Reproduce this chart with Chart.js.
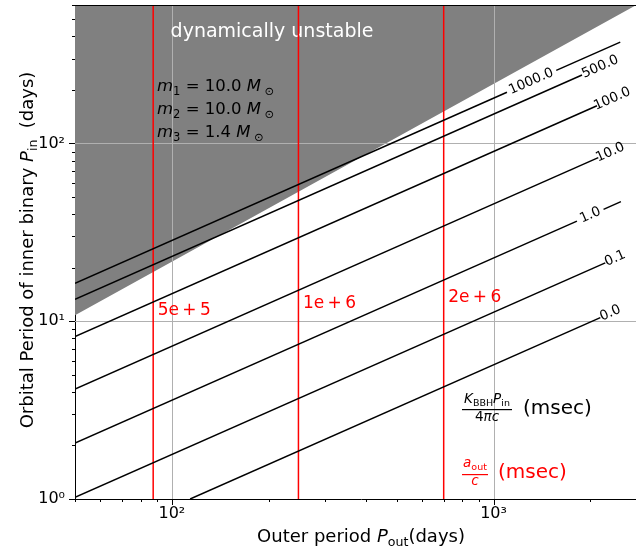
<!DOCTYPE html>
<html>
<head>
<meta charset="utf-8">
<script src="https://cdn.jsdelivr.net/npm/chart.js@4"></script>
<style>
html, body { margin: 0; padding: 0; overflow: hidden; background: #fff; }
#wrap { width: 648px; height: 550px; }
</style>
</head>
<body>
<div id="wrap"><canvas id="chart" width="648" height="550"></canvas></div>
<script>
// axis ranges and tick positions (log axes)
const xRange = [50, 3000];
const yRange = [1, 600];
const xTicks = [50, 60, 70, 80, 90, 100, 200, 300, 400, 500, 600, 700, 800, 900, 1000, 2000, 3000];
const yTicks = [1, 2, 3, 4, 5, 6, 7, 8, 9, 10, 20, 30, 40, 50, 60, 70, 80, 90, 100, 200, 300, 400, 500, 600];
const tickLabels = { 1: '10⁰', 10: '10¹', 100: '10²', 1000: '10³' };

// edge of the dynamically unstable (grey) region, [P_out, P_in]
const unstableEdge = [[50, 10.8], [2780, 600], [3000, 600]];

// contours of K_BBH P_in / 4 pi c (msec); each one is a list of pieces, gaps are where labels sit
const contourLevels = ['1000.0', '500.0', '100.0', '10.0', '1.0', '0.1', '0.0'];
const contourSegments = [
    [[[50, 16.35], [1101, 194.0]], [[1567, 257.3], [2477, 370.7]]],
    [[[50, 13.29], [1884, 242.3]]],
    [[[50, 8.195], [2097, 162.7]]],
    [[[50, 4.150], [2117, 83.1]]],
    [[[50, 2.064], [1817, 36.54]], [[2198, 42.56], [2489, 47.02]]],
    [[[50, 1.021], [2225, 21.27]]],
    [[[114, 1.0], [2148, 10.47]]]
];
const contourLabelAt = [[1310, 222.8], [2147, 269.0], [2339, 177.6], [2307, 88.98], [1999, 39.45], [2390, 22.52], [2307, 11.08]];

// a_out / c (msec) lines
const aoutPeriods = [87.5, 247.5, 700];
const aoutLabels = ['5e\u2009+\u20095', '1e\u2009+\u20096', '2e\u2009+\u20096'];
const aoutLabelY = [10.85, 11.9, 12.85];

const FONT = '"DejaVu Sans"';

function fontOf(r) {
    return (r[2] ? 'italic ' : '') + r[1] + 'px ' + FONT;
}

// draw a row of text pieces (text, size, italic, shift)
function drawRuns(ctx, runs, x, y, align, color) {
    let w = 0;
    runs.forEach(r => { ctx.font = fontOf(r); w += ctx.measureText(r[0]).width; });
    let cx = align === 'center' ? x - w / 2 : (align === 'right' ? x - w : x);
    ctx.textAlign = 'left';
    ctx.textBaseline = 'alphabetic';
    ctx.fillStyle = color;
    runs.forEach(r => {
        ctx.font = fontOf(r);
        ctx.fillText(r[0], cx, y + (r[3] || 0));
        cx += ctx.measureText(r[0]).width;
    });
    return w;
}

const datasets = [];
datasets.push({
    data: unstableEdge.map(p => ({ x: p[0], y: p[1] })),
    fill: 'end',
    backgroundColor: '#808080',
    borderColor: 'rgba(0,0,0,0)',
    borderWidth: 0,
    pointRadius: 0,
    order: 10
});
contourSegments.forEach(segs => {
    segs.forEach(seg => {
        datasets.push({
            data: seg.map(p => ({ x: p[0], y: p[1] })),
            borderColor: '#000',
            borderWidth: 1.5,
            pointRadius: 0,
            fill: false
        });
    });
});
aoutPeriods.forEach(p => {
    datasets.push({
        data: [{ x: p, y: yRange[0] }, { x: p, y: yRange[1] }],
        borderColor: '#ff0000',
        borderWidth: 1.5,
        pointRadius: 0,
        fill: false
    });
});

const decorations = {
    id: 'decorations',
    afterDatasetDraw(chart, args) {
        if (args.index !== 0) return;
        const ctx = chart.ctx;
        const xs = chart.scales.x, ys = chart.scales.y, area = chart.chartArea;
        // major grid above the grey area
        ctx.save();
        ctx.strokeStyle = '#b0b0b0';
        ctx.lineWidth = 1;
        ctx.beginPath();
        [100, 1000].forEach(v => {
            const px = Math.round(xs.getPixelForValue(v)) + 0.5;
            ctx.moveTo(px, area.top);
            ctx.lineTo(px, area.bottom);
        });
        [10, 100].forEach(v => {
            const py = Math.round(ys.getPixelForValue(v)) + 0.5;
            ctx.moveTo(area.left, py);
            ctx.lineTo(area.right, py);
        });
        ctx.stroke();

        drawRuns(ctx, [['dynamically unstable', 19]], 272, area.top + 32, 'center', '#fff');
        const mx = 157;
        drawRuns(ctx, [['m', 16.5, true], ['1', 11.5, false, 3.5], [' = 10.0 ', 16.5], ['M', 16.5, true], [' ⊙', 11.5, false, 3.5]], mx, 91, 'left', '#000');
        drawRuns(ctx, [['m', 16.5, true], ['2', 11.5, false, 3.5], [' = 10.0 ', 16.5], ['M', 16.5, true], [' ⊙', 11.5, false, 3.5]], mx, 114, 'left', '#000');
        drawRuns(ctx, [['m', 16.5, true], ['3', 11.5, false, 3.5], [' = 1.4 ', 16.5], ['M', 16.5, true], [' ⊙', 11.5, false, 3.5]], mx, 137, 'left', '#000');
        ctx.restore();
    },
    afterDraw(chart) {
        const ctx = chart.ctx;
        const xs = chart.scales.x, ys = chart.scales.y, area = chart.chartArea;
        ctx.save();
        // tick marks, minor ones shorter
        ctx.strokeStyle = '#000';
        ctx.lineWidth = 1;
        ctx.beginPath();
        xTicks.forEach(v => {
            const px = Math.round(xs.getPixelForValue(v)) + 0.5;
            const len = tickLabels[v] ? 6 : 3;
            ctx.moveTo(px, area.bottom);
            ctx.lineTo(px, area.bottom + len);
        });
        yTicks.forEach(v => {
            const py = Math.round(ys.getPixelForValue(v)) + 0.5;
            const len = tickLabels[v] ? 6 : 3;
            ctx.moveTo(area.left, py);
            ctx.lineTo(area.left - len, py);
        });
        // top and right spines
        ctx.moveTo(area.left, area.top + 0.5);
        ctx.lineTo(area.right, area.top + 0.5);
        ctx.moveTo(area.right - 0.5, area.top);
        ctx.lineTo(area.right - 0.5, area.bottom);
        ctx.stroke();

        // contour labels, rotated along their lines
        contourLevels.forEach((lab, i) => {
            const segs = contourSegments[i];
            const a = segs[0][0], b = segs[segs.length - 1][1];
            const ang = Math.atan2(ys.getPixelForValue(b[1]) - ys.getPixelForValue(a[1]),
                                   xs.getPixelForValue(b[0]) - xs.getPixelForValue(a[0]));
            const px = xs.getPixelForValue(contourLabelAt[i][0]);
            const py = ys.getPixelForValue(contourLabelAt[i][1]);
            ctx.save();
            ctx.translate(px, py);
            ctx.rotate(ang);
            ctx.font = '13.5px ' + FONT;
            ctx.fillStyle = '#000';
            ctx.textAlign = 'center';
            ctx.textBaseline = 'middle';
            ctx.fillText(lab, 0, 0);
            ctx.restore();
        });

        // a_out / c labels next to the red lines
        aoutPeriods.forEach((p, i) => {
            drawRuns(ctx, [[aoutLabels[i], 17]], xs.getPixelForValue(p) + 4.5, ys.getPixelForValue(aoutLabelY[i]), 'left', '#ff0000');
        });

        // formulas
        drawRuns(ctx, [['K', 13.5, true], ['BBH', 9.5, false, 2.5], ['P', 13.5, true], ['in', 9.5, false, 2.5]], 487, 403, 'center', '#000');
        ctx.fillStyle = '#000';
        ctx.fillRect(462, 409, 50, 1.2);
        drawRuns(ctx, [['4', 13.5], ['πc', 13.5, true]], 487, 421, 'center', '#000');
        drawRuns(ctx, [['(msec)', 20]], 523, 414, 'left', '#000');

        drawRuns(ctx, [['a', 13.5, true], ['out', 9.5, false, 2.5]], 475, 467, 'center', '#ff0000');
        ctx.fillStyle = '#ff0000';
        ctx.fillRect(462, 474, 26, 1.2);
        drawRuns(ctx, [['c', 13.5, true]], 475, 485, 'center', '#ff0000');
        drawRuns(ctx, [['(msec)', 20]], 498, 478, 'left', '#ff0000');

        // axis titles
        drawRuns(ctx, [['Outer period ', 18], ['P', 18, true], ['out', 12.6, false, 3.5], ['(days)', 18]],
            (area.left + area.right) / 2, 542, 'center', '#000');
        ctx.save();
        ctx.translate(33, (area.top + area.bottom) / 2 - 2);
        ctx.rotate(-Math.PI / 2);
        drawRuns(ctx, [['Orbital Period of inner binary ', 18], ['P', 18, true], ['in', 12.6, false, 3.5], ['  (days)', 18]],
            0, 0, 'center', '#000');
        ctx.restore();
        ctx.restore();
    }
};

new Chart(document.getElementById('chart'), {
    type: 'line',
    data: { datasets: datasets },
    options: {
        responsive: false,
        devicePixelRatio: 1,
        animation: false,
        layout: { padding: { top: 5, right: 1, left: 0, bottom: 0 } },
        plugins: { legend: { display: false }, tooltip: { enabled: false } },
        scales: {
            x: {
                type: 'logarithmic',
                position: 'bottom',
                min: xRange[0],
                max: xRange[1],
                afterBuildTicks: s => { s.ticks = xTicks.map(v => ({ value: v })); },
                afterFit: s => { s.height = 51; s.paddingLeft = 0; s.paddingRight = 0; },
                grid: { display: false, drawTicks: false },
                border: { display: true, color: '#000', width: 1 },
                ticks: {
                    autoSkip: false,
                    maxRotation: 0,
                    padding: 5,
                    color: '#000',
                    font: { family: 'DejaVu Sans', size: 16 },
                    callback: v => tickLabels[v] || ''
                }
            },
            y: {
                type: 'logarithmic',
                min: yRange[0],
                max: yRange[1],
                afterBuildTicks: s => { s.ticks = yTicks.map(v => ({ value: v })); },
                afterFit: s => { s.width = 75; s.paddingTop = 0; s.paddingBottom = 0; },
                grid: { display: false, drawTicks: false },
                border: { display: true, color: '#000', width: 1 },
                ticks: {
                    autoSkip: false,
                    padding: 10,
                    color: '#000',
                    font: { family: 'DejaVu Sans', size: 16 },
                    callback: v => tickLabels[v] || ''
                }
            }
        }
    },
    plugins: [decorations]
});
</script>
</body>
</html>
